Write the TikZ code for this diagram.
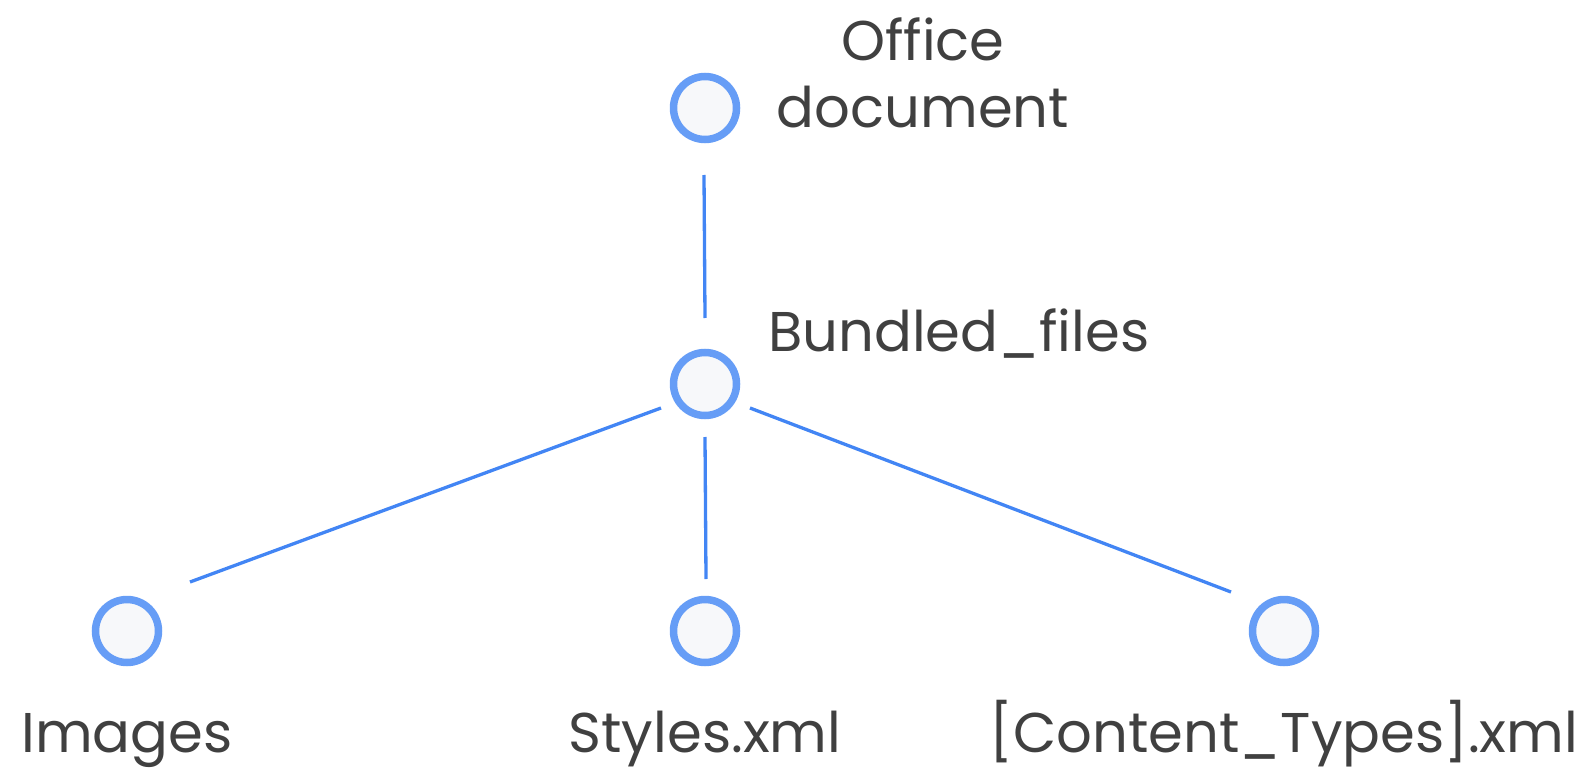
\documentclass[tikz,border=0pt]{standalone}
\usepackage{fontspec}
\setmainfont{Poppins}
\begin{document}
\begin{tikzpicture}[x=1pt,y=-1pt,
  dot/.style={circle,draw=dotblue,fill=dotfill,line width=7.5pt,minimum size=63pt,inner sep=0pt},
  conn/.style={draw=lineblue,line width=3.3pt},
  lbl/.style={text=textgray,font=\fontsize{56}{60}\selectfont,inner sep=0pt,anchor=base}]
\definecolor{dotblue}{HTML}{669DF6}
\definecolor{dotfill}{HTML}{F7F8FA}
\definecolor{lineblue}{HTML}{4285F4}
\definecolor{textgray}{HTML}{404040}
\useasboundingbox (0,0) rectangle (1579,770);
\node[dot] (office) at (705,108) {};
\node[dot] (bund) at (705,384) {};
\node[dot] (img) at (127,631) {};
\node[dot] (sty) at (705,631) {};
\node[dot] (ct) at (1284,631) {};
\coordinate (a1) at (704,175);
\coordinate (a2) at (705,318);
\coordinate (b1) at (661,408);
\coordinate (b2) at (190,582);
\coordinate (c1) at (705,437);
\coordinate (c2) at (706,579);
\coordinate (d1) at (750,408);
\coordinate (d2) at (1231,592);
\draw[conn] (a1) -- (a2);
\draw[conn] (b1) -- (b2);
\draw[conn] (c1) -- (c2);
\draw[conn] (d1) -- (d2);
\node[lbl] (t1) at (923,61) {Office};
\node[lbl] (t2) at (923,128) {document};
\node[lbl,anchor=base west] (t3) at (768,351) {Bundled\_files};
\node[lbl] (t4) at (127,752) {Images};
\node[lbl] (t5) at (705,752) {Styles.xml};
\node[lbl] (t6) at (1284,752) {[Content\_Types].xml};
\end{tikzpicture}
\end{document}
